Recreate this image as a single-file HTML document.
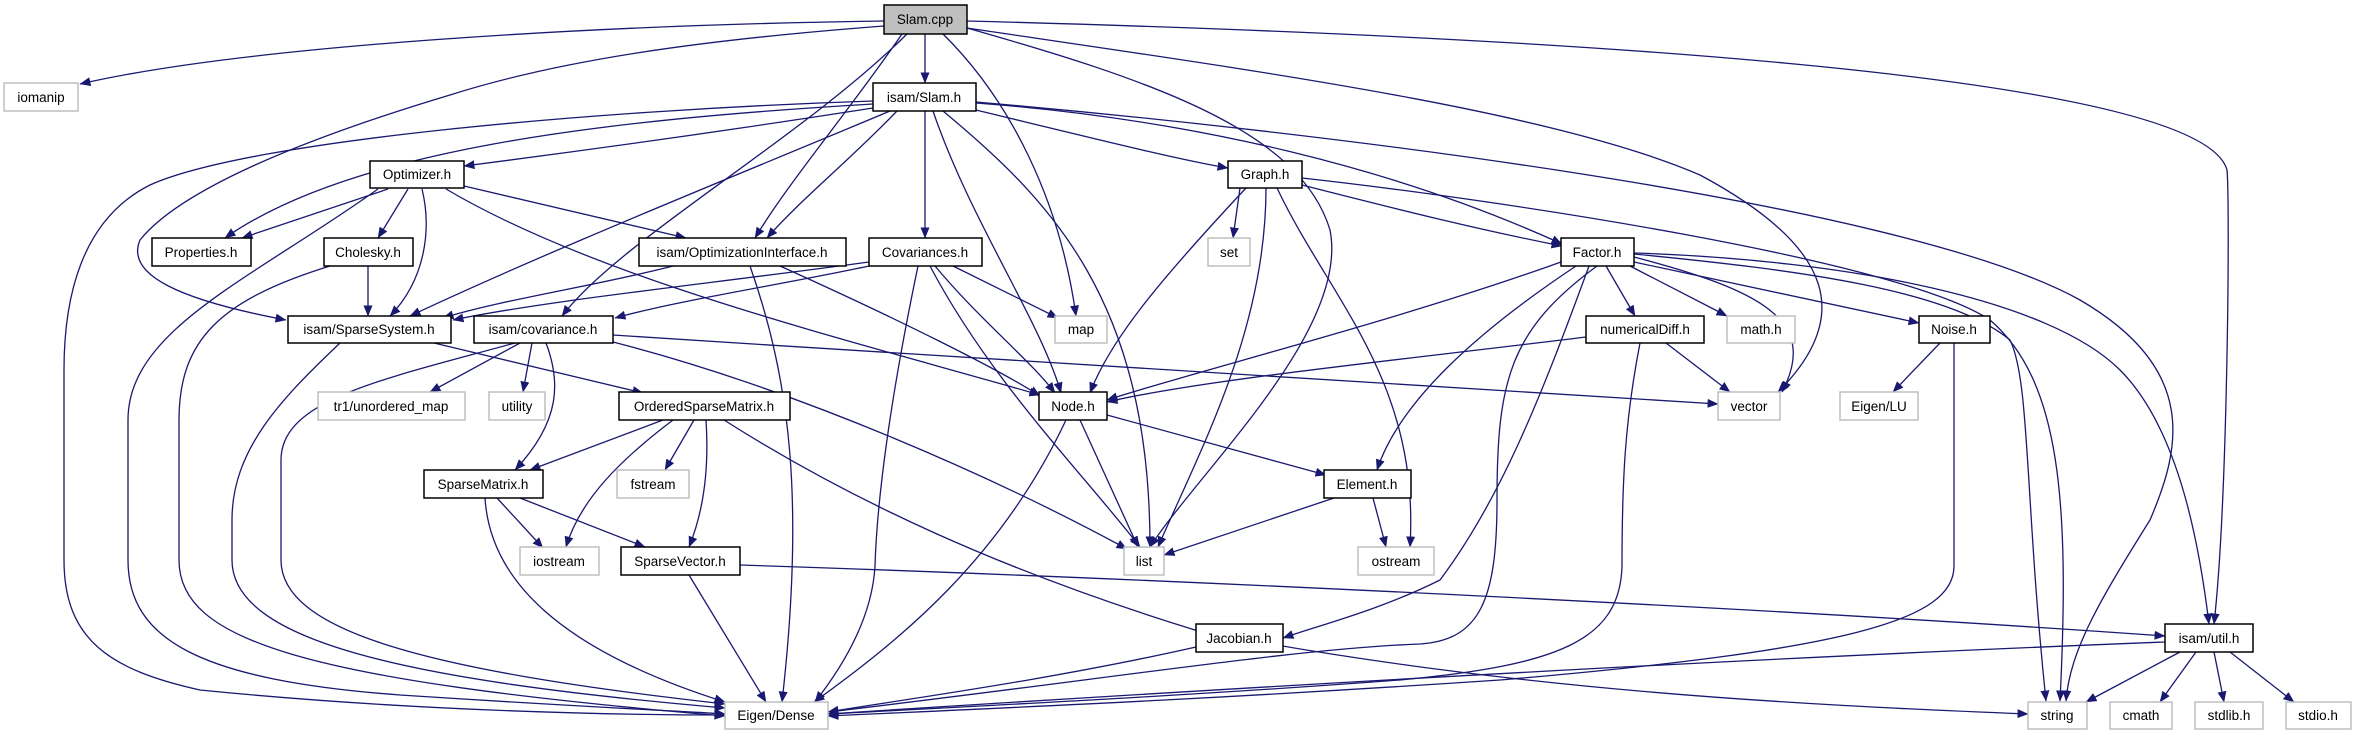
<!DOCTYPE html>
<html><head><meta charset="utf-8"><style>
html,body{margin:0;padding:0;background:#fff;width:2356px;height:736px;overflow:hidden}
svg{display:block}
text{font-family:"Liberation Sans","DejaVu Sans",sans-serif;font-size:13.5px;fill:#000;text-anchor:middle}
.e{fill:none;stroke:#191970;stroke-width:1.3;marker-end:url(#a)}
.d{fill:#fff;stroke:#000;stroke-width:1.5}
.g{fill:#fff;stroke:#bfbfbf;stroke-width:1.5}
</style></head><body>
<svg width="2356" height="736" viewBox="0 0 2356 736" xmlns="http://www.w3.org/2000/svg">
<defs><marker id="a" markerWidth="11" markerHeight="9" refX="10.5" refY="4.5" orient="auto" markerUnits="userSpaceOnUse"><path d="M0,0 L11,4.5 L0,9 z" fill="#191970"/></marker></defs>
<g>
<path class="e" d="M884,21 C600,25 250,45 80,84"/>
<path class="e" d="M884,26 C700,40 560,60 450,95 C300,140 180,190 140,240 C125,275 180,300 286,320"/>
<path class="e" d="M925,34 L925,83"/>
<path class="e" d="M907,34 C800,140 620,240 562,316"/>
<path class="e" d="M902,34 C850,110 790,180 755,238"/>
<path class="e" d="M943,34 C1010,100 1060,200 1076,316"/>
<path class="e" d="M967,28 C1150,80 1300,130 1330,230 C1350,330 1200,470 1150,547"/>
<path class="e" d="M967,21 C1500,35 2200,70 2227,170 C2230,200 2228,500 2214,624"/>
<path class="e" d="M967,28 C1250,70 1550,110 1700,175 C1840,250 1850,320 1778,392"/>
<path class="e" d="M873,101 C600,110 250,140 150,185 C80,220 64,300 64,370 L64,560 C64,640 110,670 200,690 C400,710 600,715 725,715"/>
<path class="e" d="M873,104 C600,120 350,150 225,238"/>
<path class="e" d="M873,108 C700,135 550,155 464,166"/>
<path class="e" d="M890,111 C750,170 550,250 410,316"/>
<path class="e" d="M897,111 C850,160 800,200 767,238"/>
<path class="e" d="M925,111 L925,238"/>
<path class="e" d="M933,111 C970,220 1040,320 1061,393"/>
<path class="e" d="M943,111 C1050,200 1150,300 1150,547"/>
<path class="e" d="M976,110 C1100,140 1180,160 1228,168"/>
<path class="e" d="M976,103 C1200,120 1400,170 1562,244"/>
<path class="e" d="M976,102 C1300,130 1900,200 2080,300 C2200,370 2180,450 2150,520 C2100,600 2070,650 2066,701"/>
<path class="e" d="M388,189 L242,238"/>
<path class="e" d="M408,189 L378,238"/>
<path class="e" d="M422,189 C432,230 425,280 390,316"/>
<path class="e" d="M464,186 L686,238"/>
<path class="e" d="M446,189 C600,280 850,340 1040,395"/>
<path class="e" d="M378,189 C250,280 128,330 128,420 L128,560 C128,640 200,680 400,695 C600,708 700,712 725,714"/>
<path class="e" d="M368,266 L368,316"/>
<path class="e" d="M330,266 C220,300 179,340 179,420 L179,560 C179,640 300,680 725,716"/>
<path class="e" d="M673,266 C600,285 500,300 443,318"/>
<path class="e" d="M780,266 C900,320 1000,370 1040,396"/>
<path class="e" d="M750,266 C790,380 805,500 782,702"/>
<path class="e" d="M869,262 C700,285 550,300 453,320"/>
<path class="e" d="M869,266 C780,285 680,300 615,318"/>
<path class="e" d="M953,266 L1058,318"/>
<path class="e" d="M935,266 C980,320 1030,360 1055,393"/>
<path class="e" d="M930,266 C990,380 1080,470 1140,547"/>
<path class="e" d="M918,266 C890,400 877,500 875,566 C872,620 840,670 815,702"/>
<path class="e" d="M1240,188 L1233,238"/>
<path class="e" d="M1246,188 C1160,280 1110,340 1090,393"/>
<path class="e" d="M1266,188 C1266,330 1200,450 1158,547"/>
<path class="e" d="M1277,188 C1330,300 1420,380 1410,547"/>
<path class="e" d="M1302,185 C1400,210 1480,230 1562,246"/>
<path class="e" d="M1302,178 C1500,200 1900,260 1990,320 C2060,380 2070,500 2060,701"/>
<path class="e" d="M1561,262 C1400,320 1200,370 1107,400"/>
<path class="e" d="M1576,266 C1480,330 1400,400 1377,470"/>
<path class="e" d="M1589,266 C1540,400 1500,500 1440,580 C1380,610 1320,625 1283,638"/>
<path class="e" d="M1597,266 C1510,330 1497,380 1497,500 C1497,600 1480,640 1420,644 C1300,648 1100,680 828,712"/>
<path class="e" d="M1606,266 L1635,316"/>
<path class="e" d="M1630,266 L1727,316"/>
<path class="e" d="M1634,257 C1760,290 1820,320 1782,392"/>
<path class="e" d="M1634,262 L1919,323"/>
<path class="e" d="M1634,254 C1800,270 1950,290 2010,340 C2030,380 2025,500 2046,701"/>
<path class="e" d="M1634,253 C1850,260 2050,300 2120,370 C2180,430 2200,550 2209,624"/>
<path class="e" d="M1586,337 C1400,360 1200,380 1107,402"/>
<path class="e" d="M1666,343 L1730,392"/>
<path class="e" d="M1640,343 C1625,420 1622,480 1622,566 C1620,640 1560,665 1400,680 C1200,695 1000,705 828,714"/>
<path class="e" d="M1940,343 L1893,392"/>
<path class="e" d="M1954,343 L1954,566 C1954,620 1850,650 1500,680 C1200,700 1000,708 828,716"/>
<path class="e" d="M434,343 L643,393"/>
<path class="e" d="M340,343 C280,400 232,450 232,520 L232,560 C232,640 400,680 725,708"/>
<path class="e" d="M520,343 L430,392"/>
<path class="e" d="M532,343 L523,392"/>
<path class="e" d="M546,343 C560,380 562,420 515,470"/>
<path class="e" d="M613,342 C800,390 1000,480 1127,549"/>
<path class="e" d="M613,335 C1000,360 1400,385 1718,404"/>
<path class="e" d="M515,343 C380,380 281,400 281,460 L281,560 C281,630 420,670 725,704"/>
<path class="e" d="M663,420 L530,470"/>
<path class="e" d="M673,420 C620,460 580,500 566,547"/>
<path class="e" d="M694,420 L665,470"/>
<path class="e" d="M706,420 C710,480 700,520 689,547"/>
<path class="e" d="M724,420 C850,500 1000,570 1195,630 C1500,690 1800,705 2028,714"/>
<path class="e" d="M497,498 L543,548"/>
<path class="e" d="M520,498 L645,547"/>
<path class="e" d="M485,498 C490,580 560,650 725,702"/>
<path class="e" d="M689,575 L766,702"/>
<path class="e" d="M740,565 C1200,580 1800,610 2165,636"/>
<path class="e" d="M1107,415 L1326,475"/>
<path class="e" d="M1080,420 L1138,547"/>
<path class="e" d="M1066,420 C1000,560 900,640 814,702"/>
<path class="e" d="M1334,498 L1164,555"/>
<path class="e" d="M1373,498 L1386,547"/>
<path class="e" d="M1196,647 C1050,680 900,700 828,712"/>
<path class="e" d="M2165,642 C1700,660 1200,690 828,714"/>
<path class="e" d="M2180,652 L2086,702"/>
<path class="e" d="M2196,652 L2160,702"/>
<path class="e" d="M2214,652 L2224,702"/>
<path class="e" d="M2230,652 L2294,702"/>
</g>
<g>
<rect x="884" y="5" width="83" height="29" fill="#bfbfbf" stroke="#000" stroke-width="1.5"/><text x="925" y="24">Slam.cpp</text>
<rect class="g" x="4" y="83" width="74" height="28"/><text x="41" y="102">iomanip</text>
<rect class="d" x="873" y="83" width="103" height="28"/><text x="924" y="102">isam/Slam.h</text>
<rect class="d" x="370" y="161" width="94" height="27"/><text x="417" y="179">Optimizer.h</text>
<rect class="d" x="1228" y="161" width="74" height="27"/><text x="1265" y="179">Graph.h</text>
<rect class="d" x="152" y="238" width="99" height="28"/><text x="201" y="257">Properties.h</text>
<rect class="d" x="324" y="238" width="89" height="28"/><text x="368" y="257">Cholesky.h</text>
<rect class="d" x="639" y="238" width="207" height="28"/><text x="742" y="257">isam/OptimizationInterface.h</text>
<rect class="d" x="869" y="238" width="113" height="28"/><text x="925" y="257">Covariances.h</text>
<rect class="g" x="1208" y="238" width="42" height="28"/><text x="1229" y="257">set</text>
<rect class="d" x="1561" y="238" width="73" height="28"/><text x="1597" y="257">Factor.h</text>
<rect class="d" x="288" y="316" width="163" height="27"/><text x="369" y="334">isam/SparseSystem.h</text>
<rect class="d" x="474" y="316" width="139" height="27"/><text x="543" y="334">isam/covariance.h</text>
<rect class="g" x="1055" y="316" width="52" height="27"/><text x="1081" y="334">map</text>
<rect class="d" x="1586" y="316" width="118" height="27"/><text x="1645" y="334">numericalDiff.h</text>
<rect class="g" x="1727" y="316" width="68" height="27"/><text x="1761" y="334">math.h</text>
<rect class="d" x="1919" y="316" width="71" height="27"/><text x="1954" y="334">Noise.h</text>
<rect class="g" x="318" y="392" width="147" height="28"/><text x="391" y="411">tr1/unordered_map</text>
<rect class="g" x="489" y="392" width="56" height="28"/><text x="517" y="411">utility</text>
<rect class="d" x="619" y="392" width="171" height="28"/><text x="704" y="411">OrderedSparseMatrix.h</text>
<rect class="d" x="1039" y="392" width="68" height="28"/><text x="1073" y="411">Node.h</text>
<rect class="g" x="1718" y="392" width="62" height="28"/><text x="1749" y="411">vector</text>
<rect class="g" x="1840" y="392" width="78" height="28"/><text x="1879" y="411">Eigen/LU</text>
<rect class="d" x="424" y="470" width="119" height="28"/><text x="483" y="489">SparseMatrix.h</text>
<rect class="g" x="617" y="470" width="72" height="28"/><text x="653" y="489">fstream</text>
<rect class="d" x="1324" y="470" width="87" height="28"/><text x="1367" y="489">Element.h</text>
<rect class="g" x="520" y="547" width="79" height="28"/><text x="559" y="566">iostream</text>
<rect class="d" x="621" y="547" width="119" height="28"/><text x="680" y="566">SparseVector.h</text>
<rect class="g" x="1124" y="547" width="40" height="28"/><text x="1144" y="566">list</text>
<rect class="g" x="1358" y="547" width="76" height="28"/><text x="1396" y="566">ostream</text>
<rect class="d" x="1196" y="624" width="87" height="28"/><text x="1239" y="643">Jacobian.h</text>
<rect class="d" x="2165" y="624" width="88" height="28"/><text x="2209" y="643">isam/util.h</text>
<rect class="g" x="725" y="702" width="103" height="27"/><text x="776" y="720">Eigen/Dense</text>
<rect class="g" x="2028" y="702" width="59" height="27"/><text x="2057" y="720">string</text>
<rect class="g" x="2110" y="702" width="62" height="27"/><text x="2141" y="720">cmath</text>
<rect class="g" x="2195" y="702" width="68" height="27"/><text x="2229" y="720">stdlib.h</text>
<rect class="g" x="2286" y="702" width="65" height="27"/><text x="2318" y="720">stdio.h</text>
</g>
</svg>
</body></html>
